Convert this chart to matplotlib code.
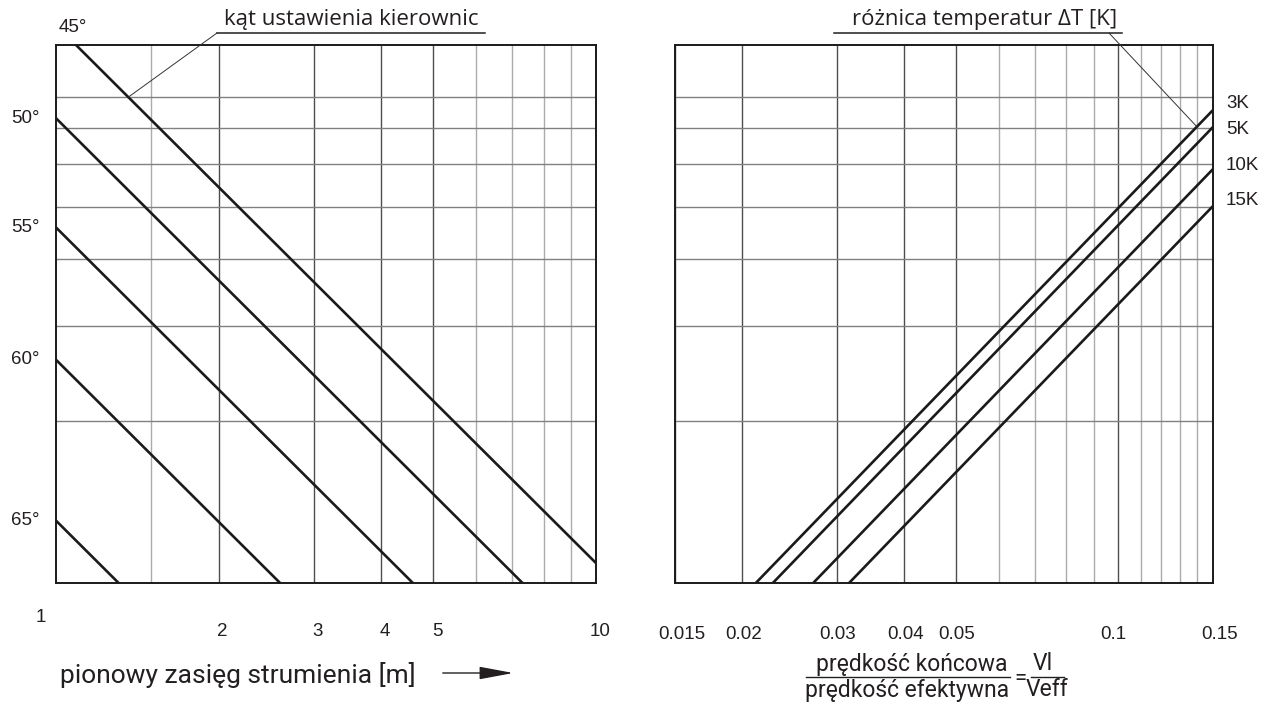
import matplotlib.pyplot as plt
import matplotlib.transforms as mtransforms
import numpy as np
from matplotlib.ticker import FixedLocator, NullFormatter, NullLocator
from matplotlib.lines import Line2D
from matplotlib.patches import FancyArrowPatch

# vane angle lines (left panel): level = c / throw, c read at throw = 1 m
vane_angles = ['45°', '50°', '55°', '60°', '65°']
vane_level_at_1m = [10.89, 7.31, 4.58, 2.60, 1.306]

# temperature difference lines (right panel)
delta_t_labels = ['3K', '5K', '10K', '15K']
ratio_at_level_1 = [0.0212, 0.0228, 0.0271, 0.0316]
level_at_ratio_015 = [7.57, 7.04, 5.88, 5.02]

throw_ticks = [2, 3, 4, 5, 10]
throw_minor = [1.5, 6, 7, 8, 9]
ratio_ticks = [0.015, 0.02, 0.03, 0.04, 0.05, 0.1, 0.15]
ratio_tick_labels = ['0.015', '0.02', '0.03', '0.04', '0.05', '0.1', '0.15']
ratio_minor = [0.06, 0.07, 0.08, 0.09, 0.11, 0.12, 0.13, 0.14]
level_grid = [2, 3, 4, 5, 6, 7, 8]

W, H = 1267, 704
INK = '#231f20'
TICK_FONT = 'Liberation Sans'
TITLE_FONT = 'Open Sans'
LABEL_FONT = 'Roboto'


def fx(x):
    return x / W


def fy(y):
    return 1 - y / H


def px_rect(l, t, r, b):
    return [l / W, 1 - b / H, (r - l) / W, (b - t) / H]


def nudge(label, dx_px):
    # shift a tick label sideways by a few pixels
    off = mtransforms.ScaledTranslation(dx_px / 100, 0, fig.dpi_scale_trans)
    label.set_transform(label.get_transform() + off)


fig = plt.figure(figsize=(W / 100, H / 100), dpi=100)
ax1 = fig.add_axes(px_rect(56, 45, 596, 583))
ax2 = fig.add_axes(px_rect(675, 45, 1213, 583))

for ax, xlim, major, minor in [(ax1, (1, 10), throw_ticks, throw_minor),
                               (ax2, (0.015, 0.15), ratio_ticks, ratio_minor)]:
    ax.set_xscale('log')
    ax.set_yscale('log')
    ax.set_xlim(*xlim)
    ax.set_ylim(1, 10)
    ax.xaxis.set_major_locator(FixedLocator(major))
    ax.xaxis.set_minor_locator(FixedLocator(minor))
    ax.xaxis.set_minor_formatter(NullFormatter())
    ax.yaxis.set_major_locator(FixedLocator(level_grid))
    ax.yaxis.set_major_formatter(NullFormatter())
    ax.yaxis.set_minor_locator(NullLocator())
    ax.grid(axis='x', which='major', color='#4d4d4d', lw=1.0)
    ax.grid(axis='x', which='minor', color='#ababab', lw=1.0)
    ax.grid(axis='y', which='major', color='#808080', lw=1.0)
    ax.tick_params(which='both', length=0)
    for s in ax.spines.values():
        s.set_color('#1a1a1a')
        s.set_linewidth(1.4)
    ax.set_axisbelow(True)

ax1.set_xticklabels([str(t) for t in throw_ticks], fontfamily=TICK_FONT,
                    fontsize=13.5, color=INK)
ax1.tick_params(axis='x', pad=29)
for lbl in ax1.get_xticklabels():
    nudge(lbl, 4)
ax2.set_xticklabels(ratio_tick_labels, fontfamily=TICK_FONT, fontsize=13.5, color=INK)
ax2.tick_params(axis='x', pad=31)
for lbl, dx in zip(ax2.get_xticklabels(), [7, 1, 1, 1, 0, -5, 7]):
    nudge(lbl, dx)
fig.text(fx(41), fy(617), '1', ha='center', va='center',
         fontfamily=TICK_FONT, fontsize=13.5, color=INK)

# vane angle lines
x = np.array([1.0, 10.0])
for label, c in zip(vane_angles, vane_level_at_1m):
    ax1.plot(x, c / x, color='#1a1a1a', lw=1.9, solid_capstyle='butt')
    if c > 10:
        ax1.annotate(label, xy=(c / 10, 10), xytext=(-3, 17), textcoords='offset pixels',
                     ha='center', va='center', fontfamily=TICK_FONT, fontsize=13.5,
                     color=INK, annotation_clip=False)
    else:
        ax1.annotate(label, xy=(1, c), xytext=(-16, 0), textcoords='offset pixels',
                     ha='right', va='center', fontfamily=TICK_FONT, fontsize=13.5,
                     color=INK, annotation_clip=False)

# temperature difference lines
label_dy = [7, -2, 4, 6]
for label, x0, y1, dy in zip(delta_t_labels, ratio_at_level_1, level_at_ratio_015, label_dy):
    ax2.plot([x0, 0.15], [1, y1], color='#1a1a1a', lw=1.9, solid_capstyle='butt')
    ax2.annotate(label, xy=(0.15, y1), xytext=(13, dy), textcoords='offset pixels',
                 ha='left', va='center', fontfamily=TICK_FONT, fontsize=13.5,
                 color=INK, annotation_clip=False)

# captions with underline and leader line
fig.text(fx(351), fy(20), 'kąt ustawienia kierownic', ha='center', va='center',
         fontfamily=TITLE_FONT, fontsize=16, color=INK)
fig.add_artist(Line2D([fx(217), fx(485)], [fy(33), fy(33)], color=INK, lw=1.1))
ax1.annotate('', xy=(vane_level_at_1m[0] / 8, 8), xycoords='data',
             xytext=(fx(217), fy(33)), textcoords='figure fraction',
             arrowprops=dict(arrowstyle='-', color='#333333', lw=0.7,
                             shrinkA=0, shrinkB=0), annotation_clip=False)

fig.text(fx(985), fy(19), 'różnica temperatur ΔT [K]', ha='center', va='center',
         fontfamily=TITLE_FONT, fontsize=16, color=INK)
fig.add_artist(Line2D([fx(834), fx(1122)], [fy(33), fy(33)], color=INK, lw=1.1))
x0, y1 = ratio_at_level_1[0], level_at_ratio_015[0]
slope = np.log(y1) / np.log(0.15 / x0)
ax2.annotate('', xy=(0.14, (0.14 / x0) ** slope), xycoords='data',
             xytext=(fx(1109), fy(33)), textcoords='figure fraction',
             arrowprops=dict(arrowstyle='-', color='#333333', lw=0.7,
                             shrinkA=0, shrinkB=0), annotation_clip=False)

# axis captions
fig.text(fx(60), fy(675), 'pionowy zasięg strumienia [m]', ha='left', va='center',
         fontfamily=LABEL_FONT, fontsize=19, color=INK)
fig.add_artist(FancyArrowPatch((fx(440), fy(673)), (fx(516), fy(673)),
                               transform=fig.transFigure,
                               arrowstyle='-|>,head_length=1.5,head_width=0.28',
                               mutation_scale=14, color=INK, lw=1.0))

fig.text(fx(912), fy(664), 'prędkość końcowa', ha='center', va='center',
         fontfamily=LABEL_FONT, fontsize=16.5, color=INK)
fig.text(fx(907), fy(690), 'prędkość efektywna', ha='center', va='center',
         fontfamily=LABEL_FONT, fontsize=16.5, color=INK)
fig.add_artist(Line2D([fx(806), fx(1010)], [fy(677), fy(677)], color=INK, lw=1.0))
fig.text(fx(1020), fy(679), '=', ha='center', va='center',
         fontfamily=LABEL_FONT, fontsize=16, color=INK)
fig.text(fx(1043), fy(664), 'Vl', ha='center', va='center',
         fontfamily=LABEL_FONT, fontsize=16.5, color=INK)
fig.text(fx(1047), fy(690), 'Veff', ha='center', va='center',
         fontfamily=LABEL_FONT, fontsize=16.5, color=INK)
fig.add_artist(Line2D([fx(1031), fx(1064)], [fy(677), fy(677)], color=INK, lw=1.0))

fig.savefig('out.png', dpi=100, facecolor='white')
